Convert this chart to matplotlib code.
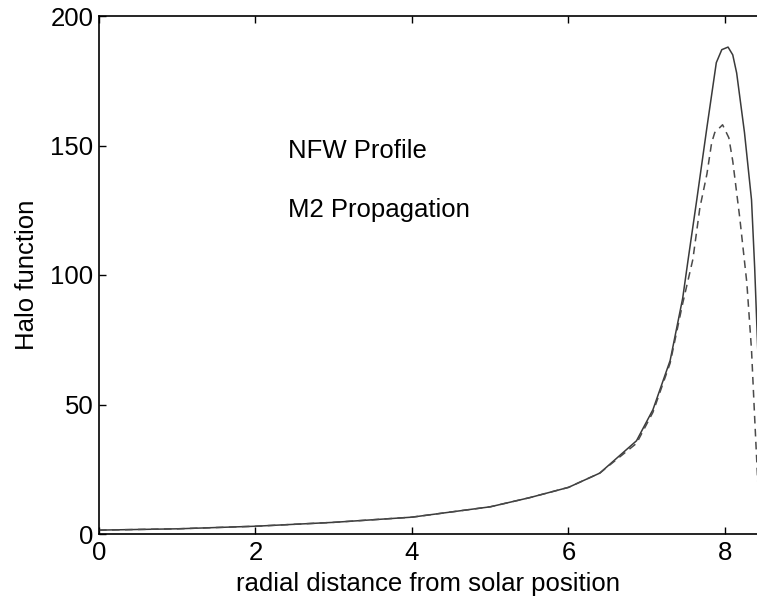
import matplotlib
matplotlib.use("Agg")
import matplotlib.pyplot as plt

# ===== data =====
x_solid = [0, 1, 2, 3, 4, 5, 5.5, 6, 6.4, 6.87, 7.08, 7.3, 7.46, 7.53, 7.64, 7.77,
           7.89, 7.96, 8.04, 8.1, 8.15, 8.25, 8.34, 8.38, 8.42]
y_solid = [1.5, 2, 3, 4.5, 6.5, 10.5, 14, 18, 23.5, 36, 48, 67, 91, 106, 129, 157,
           182, 187, 188, 185, 178, 155, 129, 103, 71]

x_dashed = [0, 1, 2, 3, 4, 5, 5.5, 6, 6.4, 6.87, 7.08, 7.3, 7.46, 7.59, 7.68, 7.77,
            7.83, 7.87, 7.97, 8.05, 8.1, 8.19, 8.28, 8.34, 8.38, 8.42]
y_dashed = [1.5, 2, 3, 4.5, 6.5, 10.5, 14, 18, 23.5, 35, 47, 66, 89, 106, 126, 139,
            151, 155, 158, 153, 144, 122, 97, 71, 45, 20]

x_ticks = [0, 2, 4, 6, 8]
y_ticks = [0, 50, 100, 150, 200]

plt.rcParams["font.family"] = ["Liberation Sans", "DejaVu Sans"]

fig = plt.figure(figsize=(7.57, 5.98), dpi=100)
ax = fig.add_axes([99 / 757, 64 / 598, 658 / 757, 518 / 598])

ax.plot(x_solid, y_solid, color="#3a3a3a", lw=1.1)
ax.plot(x_dashed, y_dashed, color="#4a4a4a", lw=1.1, linestyle=(0, (5, 3.5)))

ax.set_xlim(0, 8.41)
ax.set_ylim(0, 200)
ax.set_xticks(x_ticks)
ax.set_yticks(y_ticks)
ax.spines["right"].set_visible(False)
for s in ["left", "bottom", "top"]:
    ax.spines[s].set_linewidth(1.2)
ax.tick_params(direction="in", top=True, right=False, length=5, width=1.0,
               labelsize=18.5, colors="black")
ax.tick_params(axis="x", pad=5)
ax.tick_params(axis="y", pad=4)

ax.set_xlabel("radial distance from solar position", fontsize=18.5, labelpad=5)
ax.set_ylabel("Halo function", fontsize=18.5, labelpad=8)

ax.text(2.41, 148, "NFW Profile", fontsize=18.5, va="center", ha="left")
ax.text(2.41, 125, "M2 Propagation", fontsize=18.5, va="center", ha="left")

fig.savefig("out.png", dpi=100)
